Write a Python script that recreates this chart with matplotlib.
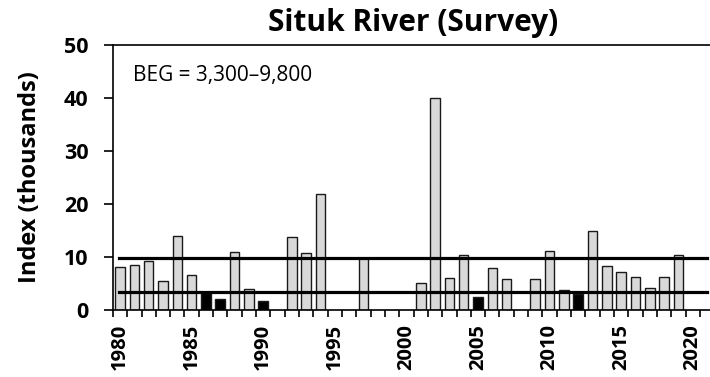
import numpy as np
import matplotlib.pyplot as plt
from matplotlib.ticker import FixedLocator

plt.rcParams['font.family'] = ['Open Sans', 'DejaVu Sans']

# survey index (thousands of fish), None = no survey
years = list(range(1980, 2020))
index = [8.0, 8.5, 9.3, 5.4, 14.0, 6.5, 3.1, 2.0, 11.0, 3.9,
         1.6, None, 13.8, 10.7, 21.9, None, None, 9.7, None, None,
         None, 5.0, 40.0, 6.0, 10.3, 2.5, 7.9, 5.8, None, 5.9,
         11.2, 3.8, 3.0, 14.9, 8.3, 7.1, 6.2, 4.2, 6.2, 10.4]
beg_low = 3.3
beg_high = 9.8

yr = np.array([y for y, v in zip(years, index) if v is not None])
val = np.array([v for v in index if v is not None])
colors = ['black' if v < beg_low else '#d9d9d9' for v in val]

fig = plt.figure(figsize=(7.1, 3.77), dpi=100)
ax = fig.add_axes([0.159, 0.178, 0.847, 0.703])

ax.bar(yr, val, width=0.67, color=colors, edgecolor='#1a1a1a', linewidth=1.0, zorder=2)

# escapement goal range
ax.plot([1979.9, 2021.0], [beg_high, beg_high], color='black', lw=2.3, zorder=3)
ax.plot([1979.9, 2021.0], [beg_low, beg_low], color='black', lw=2.3, zorder=3)

ax.set_xlim(1979.5, 2021.5)
ax.set_ylim(0, 50)

ax.spines['right'].set_visible(False)
for s in ['left', 'bottom', 'top']:
    ax.spines[s].set_linewidth(1.2)

ax.set_yticks(range(0, 51, 10))
ax.tick_params(axis='y', direction='out', length=6.5, width=1.2, labelsize=15.5, pad=11)
for lab in ax.get_yticklabels():
    lab.set_fontweight('bold')

ax.set_xticks(range(1980, 2021, 5))
ax.set_xticklabels([str(y) for y in range(1980, 2021, 5)], rotation=90,
                   fontsize=14.5, fontweight='bold')
ax.tick_params(axis='x', which='major', length=0, pad=10)
ax.xaxis.set_minor_locator(FixedLocator(np.arange(1979.5, 2022, 1)))
ax.tick_params(axis='x', which='minor', direction='out', length=5, width=1.2)

ax.set_ylabel('Index (thousands)', fontsize=17, fontweight='bold', labelpad=16)
ax.set_title('Situk River (Survey)', fontsize=21.5, fontweight='bold', pad=10)
ax.text(0.033, 0.885, 'BEG = 3,300\u20139,800', transform=ax.transAxes,
        fontsize=15, va='center', ha='left')

fig.savefig('out.png', dpi=100)
